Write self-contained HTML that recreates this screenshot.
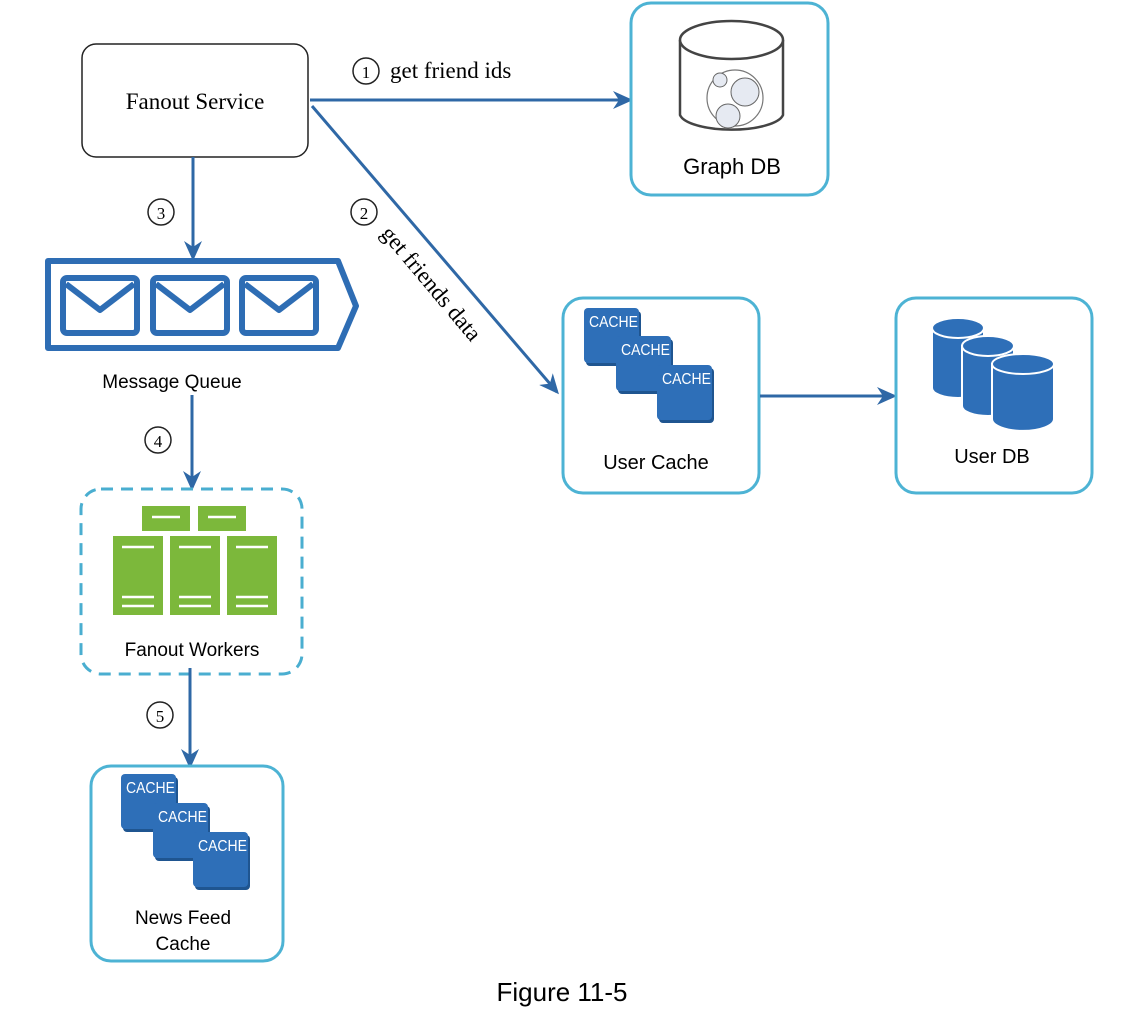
<!DOCTYPE html>
<html><head><style>body{margin:0;background:#fff}svg{display:block}</style></head><body>
<svg width="1148" height="1034" viewBox="0 0 1148 1034" xmlns="http://www.w3.org/2000/svg" font-family="Liberation Sans, sans-serif">
<defs>
<marker id="ah" markerWidth="20" markerHeight="18" refX="17" refY="9" orient="auto" markerUnits="userSpaceOnUse"><path d="M0,0 L20,9 L0,18 L6,9 Z" fill="#2f68a6"/></marker>
<g id="cache"><rect x="2" y="3" width="55" height="55" rx="4" fill="#1f5590"/><rect x="0" y="0" width="55" height="55" rx="4" fill="#2e6fb8"/><text x="5" y="19" font-size="14" fill="#fff" font-family="Liberation Sans Narrow, Liberation Sans, sans-serif" transform="scale(1,1.15)" transform-origin="5 19">CACHE</text></g>
</defs>
<rect width="1148" height="1034" fill="#fff"/>
<rect x="82" y="44" width="226" height="113" rx="14" fill="#fff" stroke="#222" stroke-width="1.5"/>
<text x="195" y="109" font-size="23" text-anchor="middle" font-family="Liberation Serif, serif">Fanout Service</text>
<line x1="310" y1="100" x2="630" y2="100" stroke="#2f68a6" stroke-width="3" marker-end="url(#ah)"/>
<circle cx="366" cy="71" r="13" fill="none" stroke="#222" stroke-width="1.5"/><text x="366" y="78" font-size="17" text-anchor="middle" font-family="Liberation Serif, serif">1</text>
<text x="390" y="78" font-size="23" font-family="Liberation Serif, serif">get friend ids</text>
<rect x="631" y="3" width="197" height="192" rx="20" fill="#fff" stroke="#4db3d4" stroke-width="3"/>
<path d="M680,40 L680,115 A52,17 0 0 0 783,115 L783,40" fill="#fff" stroke="#444" stroke-width="2.5"/>
<ellipse cx="731.5" cy="40" rx="51.5" ry="19" fill="#fff" stroke="#444" stroke-width="2.5"/>
<circle cx="735" cy="98" r="28" fill="none" stroke="#777" stroke-width="1.2"/>
<circle cx="720" cy="80" r="7" fill="#e6eaf2" stroke="#666"/>
<circle cx="745" cy="92" r="14" fill="#e6eaf2" stroke="#666"/>
<circle cx="728" cy="116" r="12" fill="#e6eaf2" stroke="#666"/>
<text x="732" y="174" font-size="22" text-anchor="middle">Graph DB</text>
<line x1="312" y1="106" x2="557" y2="392" stroke="#2f68a6" stroke-width="3" marker-end="url(#ah)"/>
<circle cx="364" cy="212" r="13" fill="none" stroke="#222" stroke-width="1.5"/><text x="364" y="219" font-size="17" text-anchor="middle" font-family="Liberation Serif, serif">2</text>
<text x="0" y="0" font-size="23" font-family="Liberation Serif, serif" transform="translate(380,234) rotate(50)">get friends data</text>
<rect x="563" y="298" width="196" height="195" rx="20" fill="#fff" stroke="#4db3d4" stroke-width="3"/>
<use href="#cache" x="584" y="308"/><use href="#cache" x="616" y="336"/><use href="#cache" x="657" y="365"/>
<text x="656" y="469" font-size="20" text-anchor="middle">User Cache</text>
<line x1="760" y1="396" x2="894" y2="396" stroke="#2f68a6" stroke-width="3" marker-end="url(#ah)"/>
<rect x="896" y="298" width="196" height="195" rx="20" fill="#fff" stroke="#4db3d4" stroke-width="3"/>
<g fill="#2e6fb8" stroke="#fff" stroke-width="2">
<path d="M932,328 v60 a26,10 0 0 0 52,0 v-60z"/><ellipse cx="958" cy="328" rx="26" ry="10"/>
<path d="M962,346 v60 a26,10 0 0 0 52,0 v-60z"/><ellipse cx="988" cy="346" rx="26" ry="10"/>
<path d="M992,364 v55 a26,10 0 0 0 62,0 v-55z"/><ellipse cx="1023" cy="364" rx="31" ry="10"/>
</g>
<text x="992" y="463" font-size="20" text-anchor="middle">User DB</text>
<line x1="193" y1="157" x2="193" y2="258" stroke="#2f68a6" stroke-width="3" marker-end="url(#ah)"/>
<circle cx="161" cy="212" r="13" fill="none" stroke="#222" stroke-width="1.5"/><text x="161" y="219" font-size="17" text-anchor="middle" font-family="Liberation Serif, serif">3</text>
<path d="M48,261 H338 L356,306 L338,348 H48 Z" fill="#fff" stroke="#2e6db4" stroke-width="6" stroke-linejoin="round"/>
<g fill="none" stroke="#2e6db4" stroke-width="6" stroke-linejoin="round">
<rect x="63" y="278" width="74" height="55" rx="4"/><path d="M66,284 L100,310 L134,284"/>
<rect x="153" y="278" width="74" height="55" rx="4"/><path d="M156,284 L190,310 L224,284"/>
<rect x="242" y="278" width="74" height="55" rx="4"/><path d="M245,284 L279,310 L313,284"/>
</g>
<text x="172" y="388" font-size="19" text-anchor="middle">Message Queue</text>
<line x1="192" y1="395" x2="192" y2="488" stroke="#2f68a6" stroke-width="3" marker-end="url(#ah)"/>
<circle cx="158" cy="440" r="13" fill="none" stroke="#222" stroke-width="1.5"/><text x="158" y="447" font-size="17" text-anchor="middle" font-family="Liberation Serif, serif">4</text>
<rect x="81" y="489" width="221" height="185" rx="20" fill="#fff" stroke="#4aaed0" stroke-width="3" stroke-dasharray="12,8"/>
<g fill="#7cb83b">
<rect x="142" y="506" width="48" height="25"/><rect x="198" y="506" width="48" height="25"/>
<rect x="113" y="536" width="50" height="79"/><rect x="170" y="536" width="50" height="79"/><rect x="227" y="536" width="50" height="79"/>
</g>
<g stroke="#fff" stroke-width="2.5">
<line x1="152" y1="517" x2="180" y2="517"/><line x1="208" y1="517" x2="236" y2="517"/>
<line x1="122" y1="547" x2="154" y2="547"/><line x1="179" y1="547" x2="211" y2="547"/><line x1="236" y1="547" x2="268" y2="547"/>
<line x1="122" y1="597" x2="154" y2="597"/><line x1="179" y1="597" x2="211" y2="597"/><line x1="236" y1="597" x2="268" y2="597"/>
<line x1="122" y1="606" x2="154" y2="606"/><line x1="179" y1="606" x2="211" y2="606"/><line x1="236" y1="606" x2="268" y2="606"/>
</g>
<text x="192" y="656" font-size="19" text-anchor="middle">Fanout Workers</text>
<line x1="190" y1="668" x2="190" y2="766" stroke="#2f68a6" stroke-width="3" marker-end="url(#ah)"/>
<circle cx="160" cy="715" r="13" fill="none" stroke="#222" stroke-width="1.5"/><text x="160" y="722" font-size="17" text-anchor="middle" font-family="Liberation Serif, serif">5</text>
<rect x="91" y="766" width="192" height="195" rx="20" fill="#fff" stroke="#4db3d4" stroke-width="3"/>
<use href="#cache" x="121" y="774"/><use href="#cache" x="153" y="803"/><use href="#cache" x="193" y="832"/>
<text x="183" y="924" font-size="19" text-anchor="middle">News Feed</text>
<text x="183" y="950" font-size="19" text-anchor="middle">Cache</text>
<text x="562" y="1001" font-size="26" text-anchor="middle">Figure 11-5</text>
</svg>
</body></html>
